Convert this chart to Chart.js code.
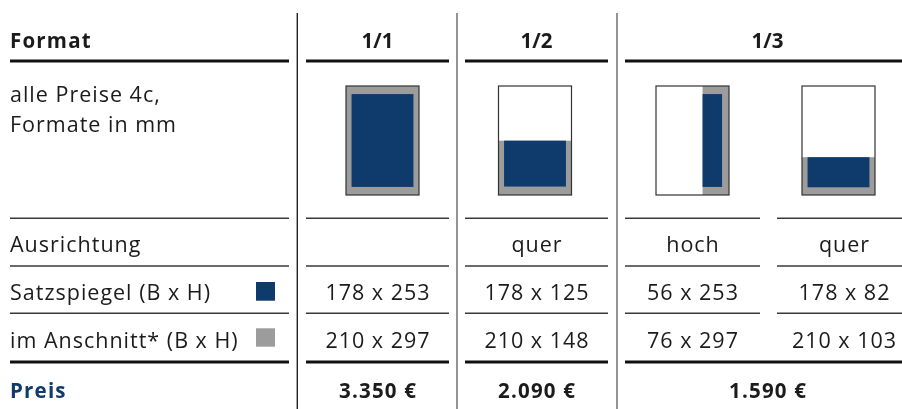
<!DOCTYPE html>
<html>
<head>
<meta charset="utf-8">
<script src="https://cdn.jsdelivr.net/npm/chart.js@4.4.1/dist/chart.umd.min.js"></script>
<style>
  html, body { margin: 0; padding: 0; background: #fff; }
  canvas { display: block; }
</style>
</head>
<body>
<canvas id="priceTable" width="902" height="409"></canvas>
<script>
// table content
const formats = ["1/1", "1/2", "1/3"];
const orientation = ["", "quer", "hoch", "quer"];
const satzspiegel = ["178 x 253", "178 x 125", "56 x 253", "178 x 82"];
const anschnitt = ["210 x 297", "210 x 148", "76 x 297", "210 x 103"];
const prices = ["3.350 €", "2.090 €", "1.590 €"];
const rowLabels = ["Ausrichtung", "Satzspiegel (B x H)", "im Anschnitt* (B x H)"];
const noteLines = ["alle Preise 4c,", "Formate in mm"];
const pageSize = [210, 297]; // A4 in mm

// layout (in scale units, 1 unit = 1 px of the 902x409 sheet)
const labelCol = { x0: 10, x1: 289 };
const valueCols = [
  { x0: 306, x1: 449, mid: 377.5 },
  { x0: 465, x1: 608, mid: 536.5 },
  { x0: 625, x1: 760, mid: 692.5 },
  { x0: 777, x1: 902, mid: 844 },
];
const groupMid = [377.5, 536.5, 767.5];
const dividers = [297.3, 457, 617];
const iconMid = [382.5, 535, 692.5, 838.5];
const iconBox = { top: 86, w: 73, h: 109 };
const thinRules = [218.3, 266, 313.3];
const thickRules = [61, 362];
const baseline = { head: 47.5, note: [101.7, 131.7], rows: [251.7, 300, 348.3], price: 398 };

const BLUE = "#0e3b6c";
const GREY = "#9c9c9c";
const INK = "#1b1b1b";
const FONT = '"Open Sans", "Noto Sans", sans-serif';
const REG = { font: "21.5px " + FONT, spacing: 1 };
const BOLD = { font: "bold 20.5px " + FONT, spacing: 1.2 };

const dims = s => s.split(" x ").map(Number);

function text(ctx, str, x, y, style, align) {
  ctx.font = style.font;
  ctx.letterSpacing = style.spacing + "px";
  ctx.textAlign = align;
  // letterSpacing adds a trailing gap; shift centred text to compensate
  const dx = align === "center" ? style.spacing / 2 : 0;
  ctx.fillText(str, x + dx, y);
}

const tablePlugin = {
  id: "tablePlugin",
  afterDraw(chart) {
    const { ctx, scales: { x, y } } = chart;
    const px = v => x.getPixelForValue(v);
    const py = v => y.getPixelForValue(v);

    ctx.save();

    // vertical dividers
    dividers.forEach((d, i) => {
      ctx.strokeStyle = i === 0 ? "#222" : "#666";
      ctx.lineWidth = 1.4;
      ctx.beginPath();
      ctx.moveTo(px(d), py(13));
      ctx.lineTo(px(d), py(409));
      ctx.stroke();
    });

    // horizontal rules
    const segs = [labelCol, ...valueCols];
    ctx.strokeStyle = "#3a3a3a";
    ctx.lineWidth = 1.4;
    thinRules.forEach(r => {
      segs.forEach(s => {
        ctx.beginPath();
        ctx.moveTo(px(s.x0), py(r));
        ctx.lineTo(px(s.x1), py(r));
        ctx.stroke();
      });
    });
    const thickSegs = [labelCol, valueCols[0], valueCols[1], { x0: valueCols[2].x0, x1: valueCols[3].x1 }];
    ctx.strokeStyle = "#111";
    ctx.lineWidth = 3;
    thickRules.forEach(r => {
      thickSegs.forEach(s => {
        ctx.beginPath();
        ctx.moveTo(px(s.x0), py(r));
        ctx.lineTo(px(s.x1), py(r));
        ctx.stroke();
      });
    });

    // header
    ctx.fillStyle = INK;
    ctx.textBaseline = "alphabetic";
    text(ctx, "Format", px(labelCol.x0), py(baseline.head), BOLD, "left");
    formats.forEach((f, i) =>
      text(ctx, f, px(groupMid[i]), py(baseline.head), { font: BOLD.font, spacing: 0 }, "center"));

    // note
    noteLines.forEach((t, i) => text(ctx, t, px(labelCol.x0), py(baseline.note[i]), REG, "left"));

    // row labels + values
    rowLabels.forEach((t, i) => text(ctx, t, px(labelCol.x0), py(baseline.rows[i]), REG, "left"));
    [orientation, satzspiegel, anschnitt].forEach((row, r) => {
      row.forEach((t, c) => {
        if (t) text(ctx, t, px(valueCols[c].mid), py(baseline.rows[r]), REG, "center");
      });
    });

    // legend swatches
    ctx.fillStyle = BLUE;
    ctx.fillRect(px(256), py(282), px(275) - px(256), py(300.7) - py(282));
    ctx.fillStyle = GREY;
    ctx.fillRect(px(256), py(328.3), px(275) - px(256), py(346.7) - py(328.3));

    // price row
    ctx.fillStyle = BLUE;
    text(ctx, "Preis", px(labelCol.x0), py(baseline.price), BOLD, "left");
    ctx.fillStyle = INK;
    prices.forEach((p, i) => text(ctx, p, px(groupMid[i]), py(baseline.price), BOLD, "center"));

    // page icons, drawn in mm
    satzspiegel.forEach((s, i) => {
      const [sw, sh] = dims(s);
      const [bw, bh] = dims(anschnitt[i]);
      const [pw, ph] = pageSize;
      const left = iconMid[i] - iconBox.w / 2;
      const mx = mm => px(left + mm * iconBox.w / pw);
      const my = mm => py(iconBox.top + mm * iconBox.h / ph);

      // bleed area sits at the outer edge of the page
      const bx = pw - bw;
      const by = ph - bh;
      // type area: centred if the bleed spans the page, otherwise at the bleed's inner/top edge
      const sx = bw === pw ? (pw - sw) / 2 : bx;
      const sy = bh === ph ? (ph - sh) / 2 : by;

      ctx.fillStyle = "#fff";
      ctx.fillRect(mx(0), my(0), mx(pw) - mx(0), my(ph) - my(0));
      ctx.fillStyle = GREY;
      ctx.fillRect(mx(bx), my(by), mx(bx + bw) - mx(bx), my(by + bh) - my(by));
      ctx.fillStyle = BLUE;
      ctx.fillRect(mx(sx), my(sy), mx(sx + sw) - mx(sx), my(sy + sh) - my(sy));
      ctx.strokeStyle = "#333";
      ctx.lineWidth = 1.2;
      ctx.strokeRect(mx(0), my(0), mx(pw) - mx(0), my(ph) - my(0));
    });

    ctx.restore();
  },
};

new Chart(document.getElementById("priceTable").getContext("2d"), {
  type: "scatter",
  data: { datasets: [{ data: [] }] },
  options: {
    responsive: false,
    animation: false,
    events: [],
    layout: { padding: 0 },
    scales: {
      x: { type: "linear", min: 0, max: 902, display: false },
      y: { type: "linear", min: 0, max: 409, reverse: true, display: false },
    },
    plugins: { legend: { display: false }, tooltip: { enabled: false } },
  },
  plugins: [tablePlugin],
});
</script>
</body>
</html>
